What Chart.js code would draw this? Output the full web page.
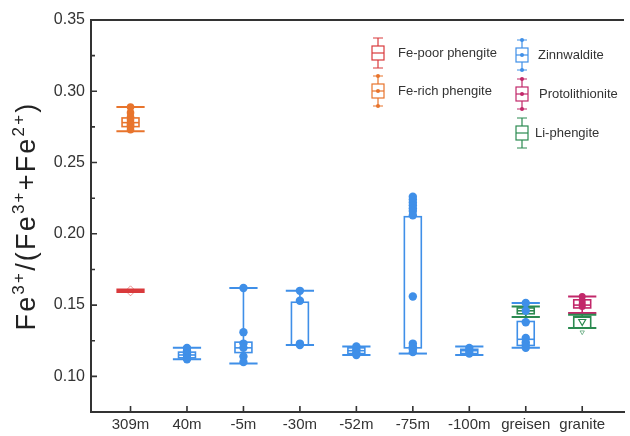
<!DOCTYPE html>
<html>
<head>
<meta charset="utf-8">
<script src="https://cdn.jsdelivr.net/npm/chart.js@4.4.1/dist/chart.umd.min.js"></script>
<style>
  html, body { margin: 0; padding: 0; background: #fff; }
  #wrap { width: 630px; height: 436px; position: relative; }
</style>
</head>
<body>
<div id="wrap"><canvas id="boxChart"></canvas></div>
<script>
// Categorías del eje X
const categories = ['309m', '40m', '-5m', '-30m', '-52m', '-75m', '-100m', 'greisen', 'granite'];
const yTickValues = [0.10, 0.15, 0.20, 0.25, 0.30, 0.35];
const yMinorValues = [0.125, 0.175, 0.225, 0.275, 0.325];

// Estadísticas de caja: [min, q1, mediana, q3, max]
const fePoorPos = [1];
const fePoorBox = [[0.1593, 0.1597, 0.160, 0.1603, 0.1607]];
const fePoorMean = [0.160];

const feRichPos = [1];
const feRichBox = [[0.272, 0.2752, 0.278, 0.2813, 0.289]];
const feRichPts = [[0.289, 0.285, 0.282, 0.280, 0.278, 0.277, 0.276, 0.275, 0.273]];

const zinnPos = [2, 3, 4, 5, 6, 7, 8];
const zinnBox = [
  [0.112, 0.113, 0.115, 0.117, 0.120],
  [0.109, 0.1167, 0.120, 0.124, 0.162],
  [0.122, 0.122, null, 0.152, 0.160],
  [0.115, 0.116, 0.118, 0.120, 0.121],
  [0.116, 0.120, null, 0.212, 0.226],
  [0.115, 0.116, 0.118, 0.119, 0.121],
  [0.120, 0.1217, 0.126, 0.1385, 0.1515]
];
const zinnPts = [
  [0.120, 0.118, 0.116, 0.115, 0.113, 0.112],
  [0.162, 0.131, 0.123, 0.120, 0.114, 0.110],
  [0.160, 0.153, 0.123, 0.122],
  [0.121, 0.119, 0.117, 0.115],
  [0.226, 0.224, 0.222, 0.220, 0.218, 0.216, 0.213, 0.156, 0.123, 0.121, 0.119, 0.117],
  [0.120, 0.118, 0.116],
  [0.1515, 0.146, 0.138, 0.127, 0.124, 0.122, 0.120]
];
const zinnNoTopCap = [6];

const protoPos = [9];
const protoBox = [[0.1444, 0.148, 0.150, 0.1537, 0.156]];
const protoPts = [[0.156, 0.153, 0.151, 0.149]];

const liPhenPos = [8, 9];
const liPhenBox = [
  [0.1416, 0.1439, 0.146, 0.148, 0.149],
  [0.134, 0.134, 0.1415, 0.142, 0.1432]
];
const liPhenMean = [null, 0.1385];
const liPhenExtra = [null, 0.131];

// Título del eje Y: [texto, es superíndice]
const yTitleParts = [
  ['Fe', false], ['3+', true], ['/(Fe', false], ['3+', true],
  ['+Fe', false], ['2+', true], [')', false]
];

const COLORS = {
  fePoor: '#d93a3c',
  feRich: '#e8742c',
  zinn: '#3f8fe8',
  proto: '#c2286a',
  liPhen: '#2b8a50'
};

const FONT = 'Arial, "Liberation Sans", sans-serif';
const BOX_W = 0.3;   // ancho de caja (unidades de eje)
const CAP_W = 0.5;   // ancho de bigotes

// Arma puntos de dispersión a partir de posiciones y valores
function toPoints(pos, pts) {
  const out = [];
  pos.forEach((p, i) => (pts[i] || []).forEach(v => out.push({ x: p, y: v })));
  return out;
}

function drawBox(ctx, xs, ys, pos, stats, color, opts = {}) {
  const [mn, q1, med, q3, mx] = stats;
  const xc = xs.getPixelForValue(pos);
  const bw = xs.getPixelForValue(pos + BOX_W / 2) - xc;
  const cw = xs.getPixelForValue(pos + CAP_W / 2) - xc;
  ctx.save();
  ctx.strokeStyle = color;
  ctx.lineWidth = opts.lw || 1.6;
  ctx.beginPath();
  // bigotes
  ctx.moveTo(xc, ys.getPixelForValue(q3));
  ctx.lineTo(xc, ys.getPixelForValue(mx));
  ctx.moveTo(xc, ys.getPixelForValue(q1));
  ctx.lineTo(xc, ys.getPixelForValue(mn));
  ctx.stroke();
  ctx.lineWidth = opts.capLw || 2;
  ctx.beginPath();
  if (!opts.noTopCap) {
    ctx.moveTo(xc - cw, ys.getPixelForValue(mx));
    ctx.lineTo(xc + cw, ys.getPixelForValue(mx));
  }
  ctx.moveTo(xc - cw, ys.getPixelForValue(mn));
  ctx.lineTo(xc + cw, ys.getPixelForValue(mn));
  ctx.stroke();
  // caja
  ctx.lineWidth = opts.lw || 1.6;
  const yTop = ys.getPixelForValue(q3);
  const yBot = ys.getPixelForValue(q1);
  ctx.strokeRect(xc - bw, yTop, bw * 2, yBot - yTop);
  if (med !== null && med !== undefined) {
    ctx.beginPath();
    ctx.moveTo(xc - bw, ys.getPixelForValue(med));
    ctx.lineTo(xc + bw, ys.getPixelForValue(med));
    ctx.stroke();
  }
  ctx.restore();
}

const boxPlugin = {
  id: 'boxes',
  beforeDatasetsDraw(chart) {
    const { ctx, scales: { x, y } } = chart;
    fePoorPos.forEach((p, i) => drawBox(ctx, x, y, p, fePoorBox[i], COLORS.fePoor, { lw: 2, capLw: 2.5 }));
    feRichPos.forEach((p, i) => drawBox(ctx, x, y, p, feRichBox[i], COLORS.feRich));
    zinnPos.forEach((p, i) => drawBox(ctx, x, y, p, zinnBox[i], COLORS.zinn, { noTopCap: zinnNoTopCap.includes(p) }));
    protoPos.forEach((p, i) => drawBox(ctx, x, y, p, protoBox[i], COLORS.proto));
    liPhenPos.forEach((p, i) => drawBox(ctx, x, y, p, liPhenBox[i], COLORS.liPhen));
  }
};

// Ticks hacia adentro, borde superior y título del eje Y con superíndices
const axisPlugin = {
  id: 'axisTicks',
  afterDraw(chart) {
    const { ctx, chartArea: a, scales: { x, y } } = chart;
    ctx.save();
    ctx.strokeStyle = '#333';
    ctx.lineWidth = 1.6;
    ctx.beginPath();
    yTickValues.forEach(v => {
      const py = y.getPixelForValue(v);
      ctx.moveTo(a.left, py); ctx.lineTo(a.left + 6, py);
    });
    yMinorValues.forEach(v => {
      const py = y.getPixelForValue(v);
      ctx.moveTo(a.left, py); ctx.lineTo(a.left + 4, py);
    });
    categories.forEach((c, i) => {
      const px = x.getPixelForValue(i + 1);
      ctx.moveTo(px, a.bottom); ctx.lineTo(px, a.bottom - 6);
    });
    ctx.stroke();
    ctx.lineWidth = 2;
    ctx.beginPath();
    ctx.moveTo(a.left - 1, a.top); ctx.lineTo(a.right, a.top);
    ctx.stroke();

    // título rotado
    const mainFont = '27px ' + FONT;
    const supFont = '17px ' + FONT;
    const spacing = 2.2;
    let total = 0;
    yTitleParts.forEach(([t, sup]) => {
      ctx.font = sup ? supFont : mainFont;
      total += ctx.measureText(t).width + spacing * t.length;
    });
    ctx.translate(35, (a.top + a.bottom) / 2);
    ctx.rotate(-Math.PI / 2);
    ctx.fillStyle = '#222';
    ctx.textBaseline = 'alphabetic';
    let cx = -total / 2;
    yTitleParts.forEach(([t, sup]) => {
      ctx.font = sup ? supFont : mainFont;
      for (const ch of t) {
        ctx.fillText(ch, cx, sup ? -11 : 0);
        cx += ctx.measureText(ch).width + spacing;
      }
    });
    ctx.restore();
  }
};

// Leyenda con mini diagramas de caja
const LEGEND = [
  { label: 'Fe-poor phengite', color: COLORS.fePoor, x: 378, y: 53, tx: 398, dots: false },
  { label: 'Fe-rich phengite', color: COLORS.feRich, x: 378, y: 91, tx: 398, dots: true },
  { label: 'Zinnwaldite', color: COLORS.zinn, x: 522, y: 55, tx: 538, dots: true },
  { label: 'Protolithionite', color: COLORS.proto, x: 522, y: 94, tx: 539, dots: true },
  { label: 'Li-phengite', color: COLORS.liPhen, x: 522, y: 133, tx: 535, dots: false }
];

const legendPlugin = {
  id: 'boxLegend',
  afterDraw(chart) {
    const { ctx } = chart;
    ctx.save();
    LEGEND.forEach(item => {
      const { x, y, color } = item;
      ctx.strokeStyle = color;
      ctx.fillStyle = color;
      ctx.lineWidth = 1.2;
      ctx.beginPath();
      ctx.moveTo(x, y - 15); ctx.lineTo(x, y + 15);
      ctx.moveTo(x - 5, y - 15); ctx.lineTo(x + 5, y - 15);
      ctx.moveTo(x - 5, y + 15); ctx.lineTo(x + 5, y + 15);
      ctx.stroke();
      ctx.fillStyle = '#fff';
      ctx.fillRect(x - 6, y - 7, 12, 14);
      ctx.strokeRect(x - 6, y - 7, 12, 14);
      ctx.beginPath();
      ctx.moveTo(x - 6, y); ctx.lineTo(x + 6, y);
      ctx.stroke();
      ctx.fillStyle = color;
      if (item.dots) {
        [y - 15, y, y + 15].forEach(py => {
          ctx.beginPath(); ctx.arc(x, py, 2, 0, Math.PI * 2); ctx.fill();
        });
      }
      ctx.fillStyle = '#333';
      ctx.font = '13px ' + FONT;
      ctx.textBaseline = 'middle';
      ctx.fillText(item.label, item.tx, y);
    });
    ctx.restore();
  }
};

const ctx = document.getElementById('boxChart');

new Chart(ctx, {
  type: 'scatter',
  data: {
    datasets: [
      {
        label: 'Fe-rich phengite',
        data: toPoints(feRichPos, feRichPts),
        backgroundColor: COLORS.feRich,
        pointRadius: 3.8,
        borderWidth: 0
      },
      {
        label: 'Zinnwaldite',
        data: toPoints(zinnPos, zinnPts),
        backgroundColor: COLORS.zinn,
        pointRadius: 4.2,
        borderWidth: 0
      },
      {
        label: 'Protolithionite',
        data: toPoints(protoPos, protoPts),
        backgroundColor: COLORS.proto,
        pointRadius: 3.5,
        borderWidth: 0
      },
      {
        label: 'Fe-poor mean',
        data: toPoints(fePoorPos, fePoorMean.map(v => [v])),
        pointStyle: 'rectRot',
        pointRadius: 5,
        backgroundColor: 'rgba(0,0,0,0)',
        borderColor: 'rgba(217,58,60,0.55)',
        borderWidth: 1
      },
      {
        label: 'Li-phengite mean',
        data: toPoints(liPhenPos, liPhenMean.map(v => (v === null ? [] : [v]))),
        pointStyle: 'triangle',
        rotation: 180,
        pointRadius: 4,
        backgroundColor: 'rgba(0,0,0,0)',
        borderColor: COLORS.liPhen,
        borderWidth: 1.2
      },
      {
        label: 'Li-phengite extra',
        data: toPoints(liPhenPos, liPhenExtra.map(v => (v === null ? [] : [v]))),
        pointStyle: 'triangle',
        rotation: 180,
        pointRadius: 2.5,
        backgroundColor: 'rgba(0,0,0,0)',
        borderColor: 'rgba(43,138,80,0.6)',
        borderWidth: 1
      }
    ]
  },
  options: {
    responsive: true,
    maintainAspectRatio: false,
    animation: false,
    layout: { padding: { top: 20, right: 1, left: 0, bottom: 0 } },
    plugins: {
      legend: { display: false },
      tooltip: { enabled: false }
    },
    scales: {
      x: {
        type: 'linear',
        min: 0.3,
        max: 9.74,
        afterBuildTicks: scale => {
          scale.ticks = categories.map((c, i) => ({ value: i + 1 }));
        },
        afterFit: scale => { scale.height = 24; },
        ticks: {
          callback: value => categories[value - 1],
          color: '#333',
          padding: 4,
          maxRotation: 0,
          autoSkip: false,
          font: { family: FONT, size: 15 }
        },
        grid: { display: false, drawTicks: false },
        border: { display: true, color: '#333', width: 2 }
      },
      y: {
        min: 0.075,
        max: 0.35,
        afterBuildTicks: scale => {
          scale.ticks = yTickValues.map(v => ({ value: v }));
        },
        afterFit: scale => { scale.width = 91; },
        ticks: {
          callback: value => value.toFixed(2),
          color: '#333',
          padding: 6,
          font: { family: FONT, size: 16 }
        },
        grid: { display: false, drawTicks: false },
        border: { display: true, color: '#333', width: 2 }
      }
    }
  },
  plugins: [boxPlugin, axisPlugin, legendPlugin]
});
</script>
</body>
</html>
